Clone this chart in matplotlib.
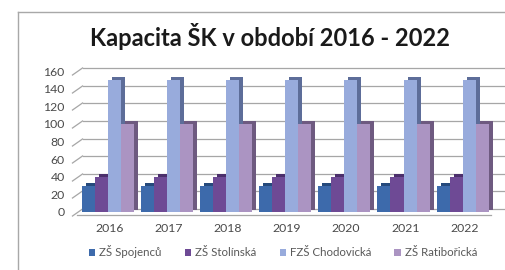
import matplotlib
matplotlib.use("Agg")
import matplotlib.pyplot as plt
from matplotlib.transforms import offset_copy
from matplotlib.path import Path
from matplotlib.patches import Patch
from matplotlib.lines import Line2D
import numpy as np

years = ["2016", "2017", "2018", "2019", "2020", "2021", "2022"]
series_names = ["ZŠ Spojenců", "ZŠ Stolínská", "FZŠ Chodovická", "ZŠ Ratibořická"]
spojencu = [30, 30, 30, 30, 30, 30, 30]
stolinska = [40, 40, 40, 40, 40, 40, 40]
chodovicka = [150, 150, 150, 150, 150, 150, 150]
ratiborická = [100, 100, 100, 100, 100, 100, 100]
values = [spojencu, stolinska, chodovicka, ratiborická]
yticks = [0, 20, 40, 60, 80, 100, 120, 140, 160]

front_colors = ["#3d6aab", "#6e4a95", "#98abdc", "#ab94c2"]
side_colors = ["#264a7c", "#4b2f6b", "#5d6d99", "#6e5a80"]

W, H = 505, 270
fig = plt.figure(figsize=(W / 100, H / 100), dpi=100)
fig.patch.set_facecolor("white")

def fx(px):
    return px / W

def fy(py):
    return 1 - py / H

# outer frame (top & left edges visible)
fig.add_artist(Line2D([fx(18), 1], [fy(12), fy(12)], color="#a8a8a8", lw=1.0))
fig.add_artist(Line2D([fx(18), fx(18)], [fy(12), 0], color="#a8a8a8", lw=1.0))

ax_left, ax_right = 80, 494
ax_top, ax_bot = 71, 212
ax = fig.add_axes([fx(ax_left), fy(ax_bot), fx(ax_right - ax_left), (ax_bot - ax_top) / H])
ax.set_xlim(-0.5, len(years) - 0.5)
ax.set_ylim(0, 160)
for s in ax.spines.values():
    s.set_visible(False)
ax.set_facecolor("none")

# back-wall gridlines (offset up/right for 3D look)
grid_tr = offset_copy(ax.get_yaxis_transform(), fig=fig, x=3, y=3, units="dots")
for yv in yticks:
    ax.plot([0, 1.02], [yv, yv], color="#a6a6a6", lw=0.9, transform=grid_tr, zorder=0.5, clip_on=False)
# side-wall diagonal ticks
diag = Path([(-1.0, -0.7), (1.0, 0.7)], [Path.MOVETO, Path.LINETO])
side_tr = offset_copy(ax.get_yaxis_transform(), fig=fig, x=-3, y=0, units="dots")
ax.plot([0] * len(yticks), yticks, linestyle="none", marker=diag, markersize=8,
        markeredgecolor="#a6a6a6", markeredgewidth=0.9, transform=side_tr, clip_on=False, zorder=0.5)
# floor front line
floor_tr = offset_copy(ax.get_yaxis_transform(), fig=fig, x=-3, y=-3, units="dots")
ax.plot([0, 1.0], [0, 0], color="#a6a6a6", lw=0.9, transform=floor_tr, clip_on=False, zorder=0.5)

x = np.arange(len(years))
bw = 0.22
offsets = [-0.36, -0.14, 0.08, 0.30]
shadow_tr = offset_copy(ax.transData, fig=fig, x=4, y=2.5, units="dots")
for i, vals in enumerate(values):
    ax.bar(x + offsets[i], vals, width=bw, color=side_colors[i], transform=shadow_tr,
           zorder=2 + 2 * i, linewidth=0)
    ax.bar(x + offsets[i], vals, width=bw, color=front_colors[i], zorder=3 + 2 * i,
           linewidth=0)

ax.set_xticks(x)
ax.set_xticklabels(years)
ax.set_yticks(yticks)
ax.tick_params(axis="both", length=0, labelsize=8.8, labelcolor="#4a4a4a")
ax.tick_params(axis="y", pad=11)
ax.tick_params(axis="x", pad=8)
for lab in ax.get_xticklabels() + ax.get_yticklabels():
    lab.set_fontfamily("Lato")

fig.text(fx(270), fy(37), "Kapacita ŠK v období 2016 - 2022", ha="center", va="center",
         fontsize=17, fontweight="bold", family="Lato", color="#1a1a1a")

handles = [Patch(facecolor=c, edgecolor="none") for c in front_colors]
leg = fig.legend(handles, series_names, loc="center", bbox_to_anchor=(fx(283), fy(252)),
                 ncol=4, frameon=False, handlelength=0.55, handleheight=0.55,
                 handletextpad=0.35, columnspacing=2.0, prop={"family": "Lato", "size": 8.3})
for t in leg.get_texts():
    t.set_color("#595959")

fig.savefig("out.png", dpi=100)
